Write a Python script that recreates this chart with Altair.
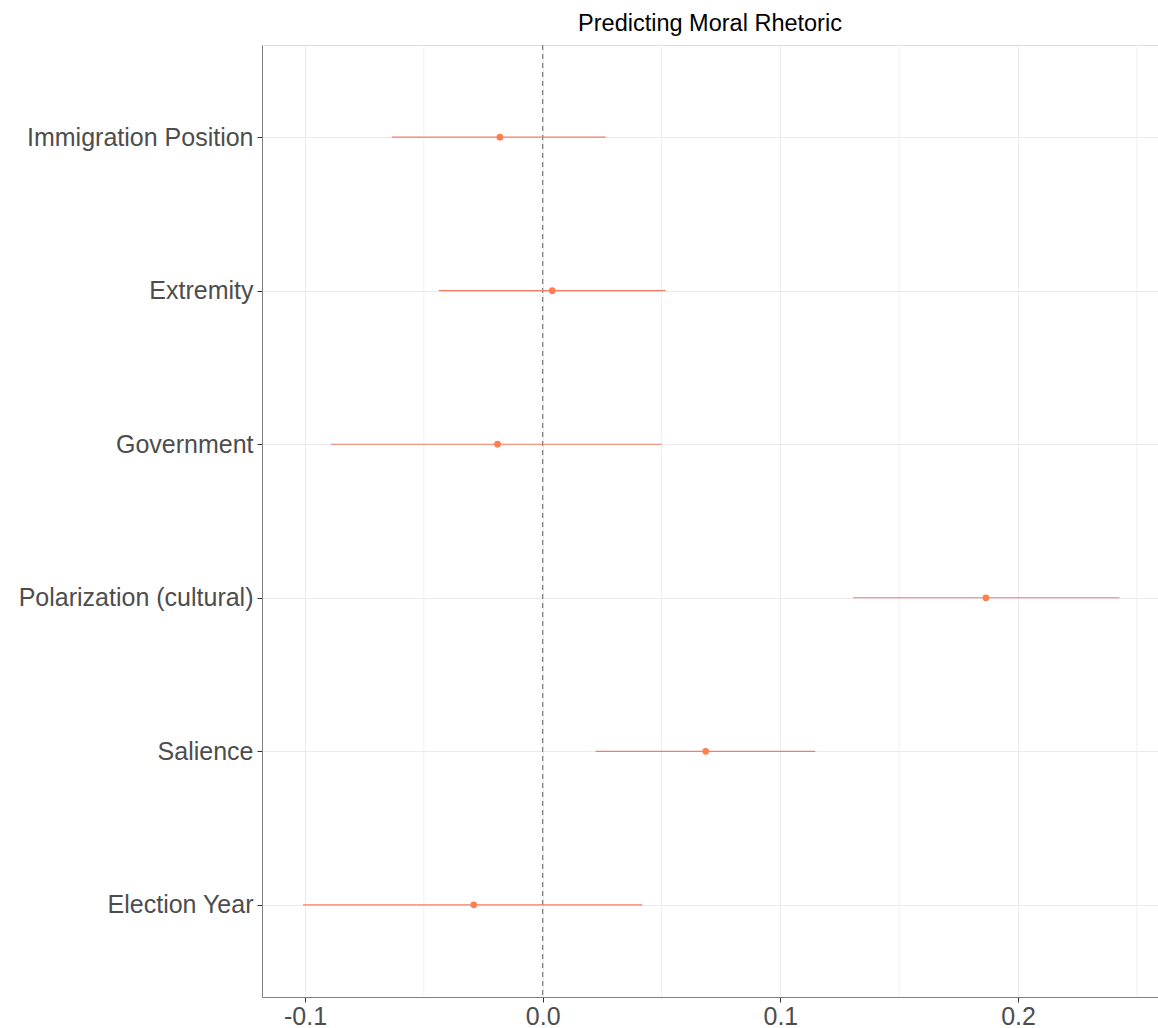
import altair as alt
import pandas as pd

# Coefficient estimates with 95% interval bounds
terms = ["Immigration Position", "Extremity", "Government",
         "Polarization (cultural)", "Salience", "Election Year"]
estimates = [-0.018, 0.004, -0.019, 0.1865, 0.0686, -0.029]
lower = [-0.0635, -0.0437, -0.0892, 0.1306, 0.0223, -0.1008]
upper = [0.0265, 0.0517, 0.0501, 0.2427, 0.1147, 0.0419]

major_ticks = [-0.1, 0.0, 0.1, 0.2]
minor_ticks = [-0.05, 0.05, 0.15, 0.25]

df = pd.DataFrame({"term": terms, "estimate": estimates, "lo": lower, "hi": upper})
minor_df = pd.DataFrame({"v": minor_ticks})

FONT = "Liberation Sans"
x_scale = alt.Scale(domain=[-0.1181, 0.2589], nice=False, zero=False)
y_scale = alt.Scale(type="point", domain=terms, padding=0.6)

minor_grid = alt.Chart(minor_df).mark_rule(color="#F0F0F0", strokeWidth=1).encode(
    x=alt.X("v:Q", scale=x_scale)
)

intervals = alt.Chart(df).mark_rule(color="#F47C66", strokeWidth=1.2).encode(
    x=alt.X("lo:Q", scale=x_scale,
            axis=alt.Axis(values=major_ticks, title=None,
                          labelExpr="datum.value < 0 ? '-' + format(abs(datum.value), '.1f') : format(datum.value, '.1f')",
                          labelFontSize=25, labelColor="#4D4D4D", labelFont=FONT,
                          labelPadding=2, tickSize=5, tickColor="#333333",
                          domainColor="#7F7F7F", gridColor="#EBEBEB")),
    x2="hi:Q",
    y=alt.Y("term:N", scale=y_scale,
            axis=alt.Axis(title=None, labelFontSize=25, labelColor="#4D4D4D",
                          labelFont=FONT, labelPadding=4, tickSize=5, grid=True,
                          tickColor="#333333", domainColor="#7F7F7F",
                          gridColor="#EBEBEB", labelLimit=400)),
)

points = alt.Chart(df).mark_point(filled=True, color="#FF7F50", opacity=1, size=45).encode(
    x=alt.X("estimate:Q", scale=x_scale),
    y=alt.Y("term:N", scale=y_scale),
)

zero_line = alt.Chart(pd.DataFrame({"z": [0.0]})).mark_rule(
    color="#666666", strokeDash=[5, 4], strokeWidth=1
).encode(x=alt.X("z:Q", scale=x_scale))

chart = alt.layer(minor_grid, zero_line, intervals, points).properties(
    width=896,
    height=952,
    title=alt.TitleParams("Predicting Moral Rhetoric", fontSize=23.5, font=FONT,
                          fontWeight="normal", color="#000000", anchor="middle",
                          offset=9),
    padding={"left": 262, "top": 45, "right": 0, "bottom": 31},
    autosize=alt.AutoSizeParams(type="none"),
).configure_view(
    stroke="#7F7F7F", strokeWidth=1
).configure(background="white")

chart.save("out.html", embed_options={"renderer": "svg", "actions": False})
